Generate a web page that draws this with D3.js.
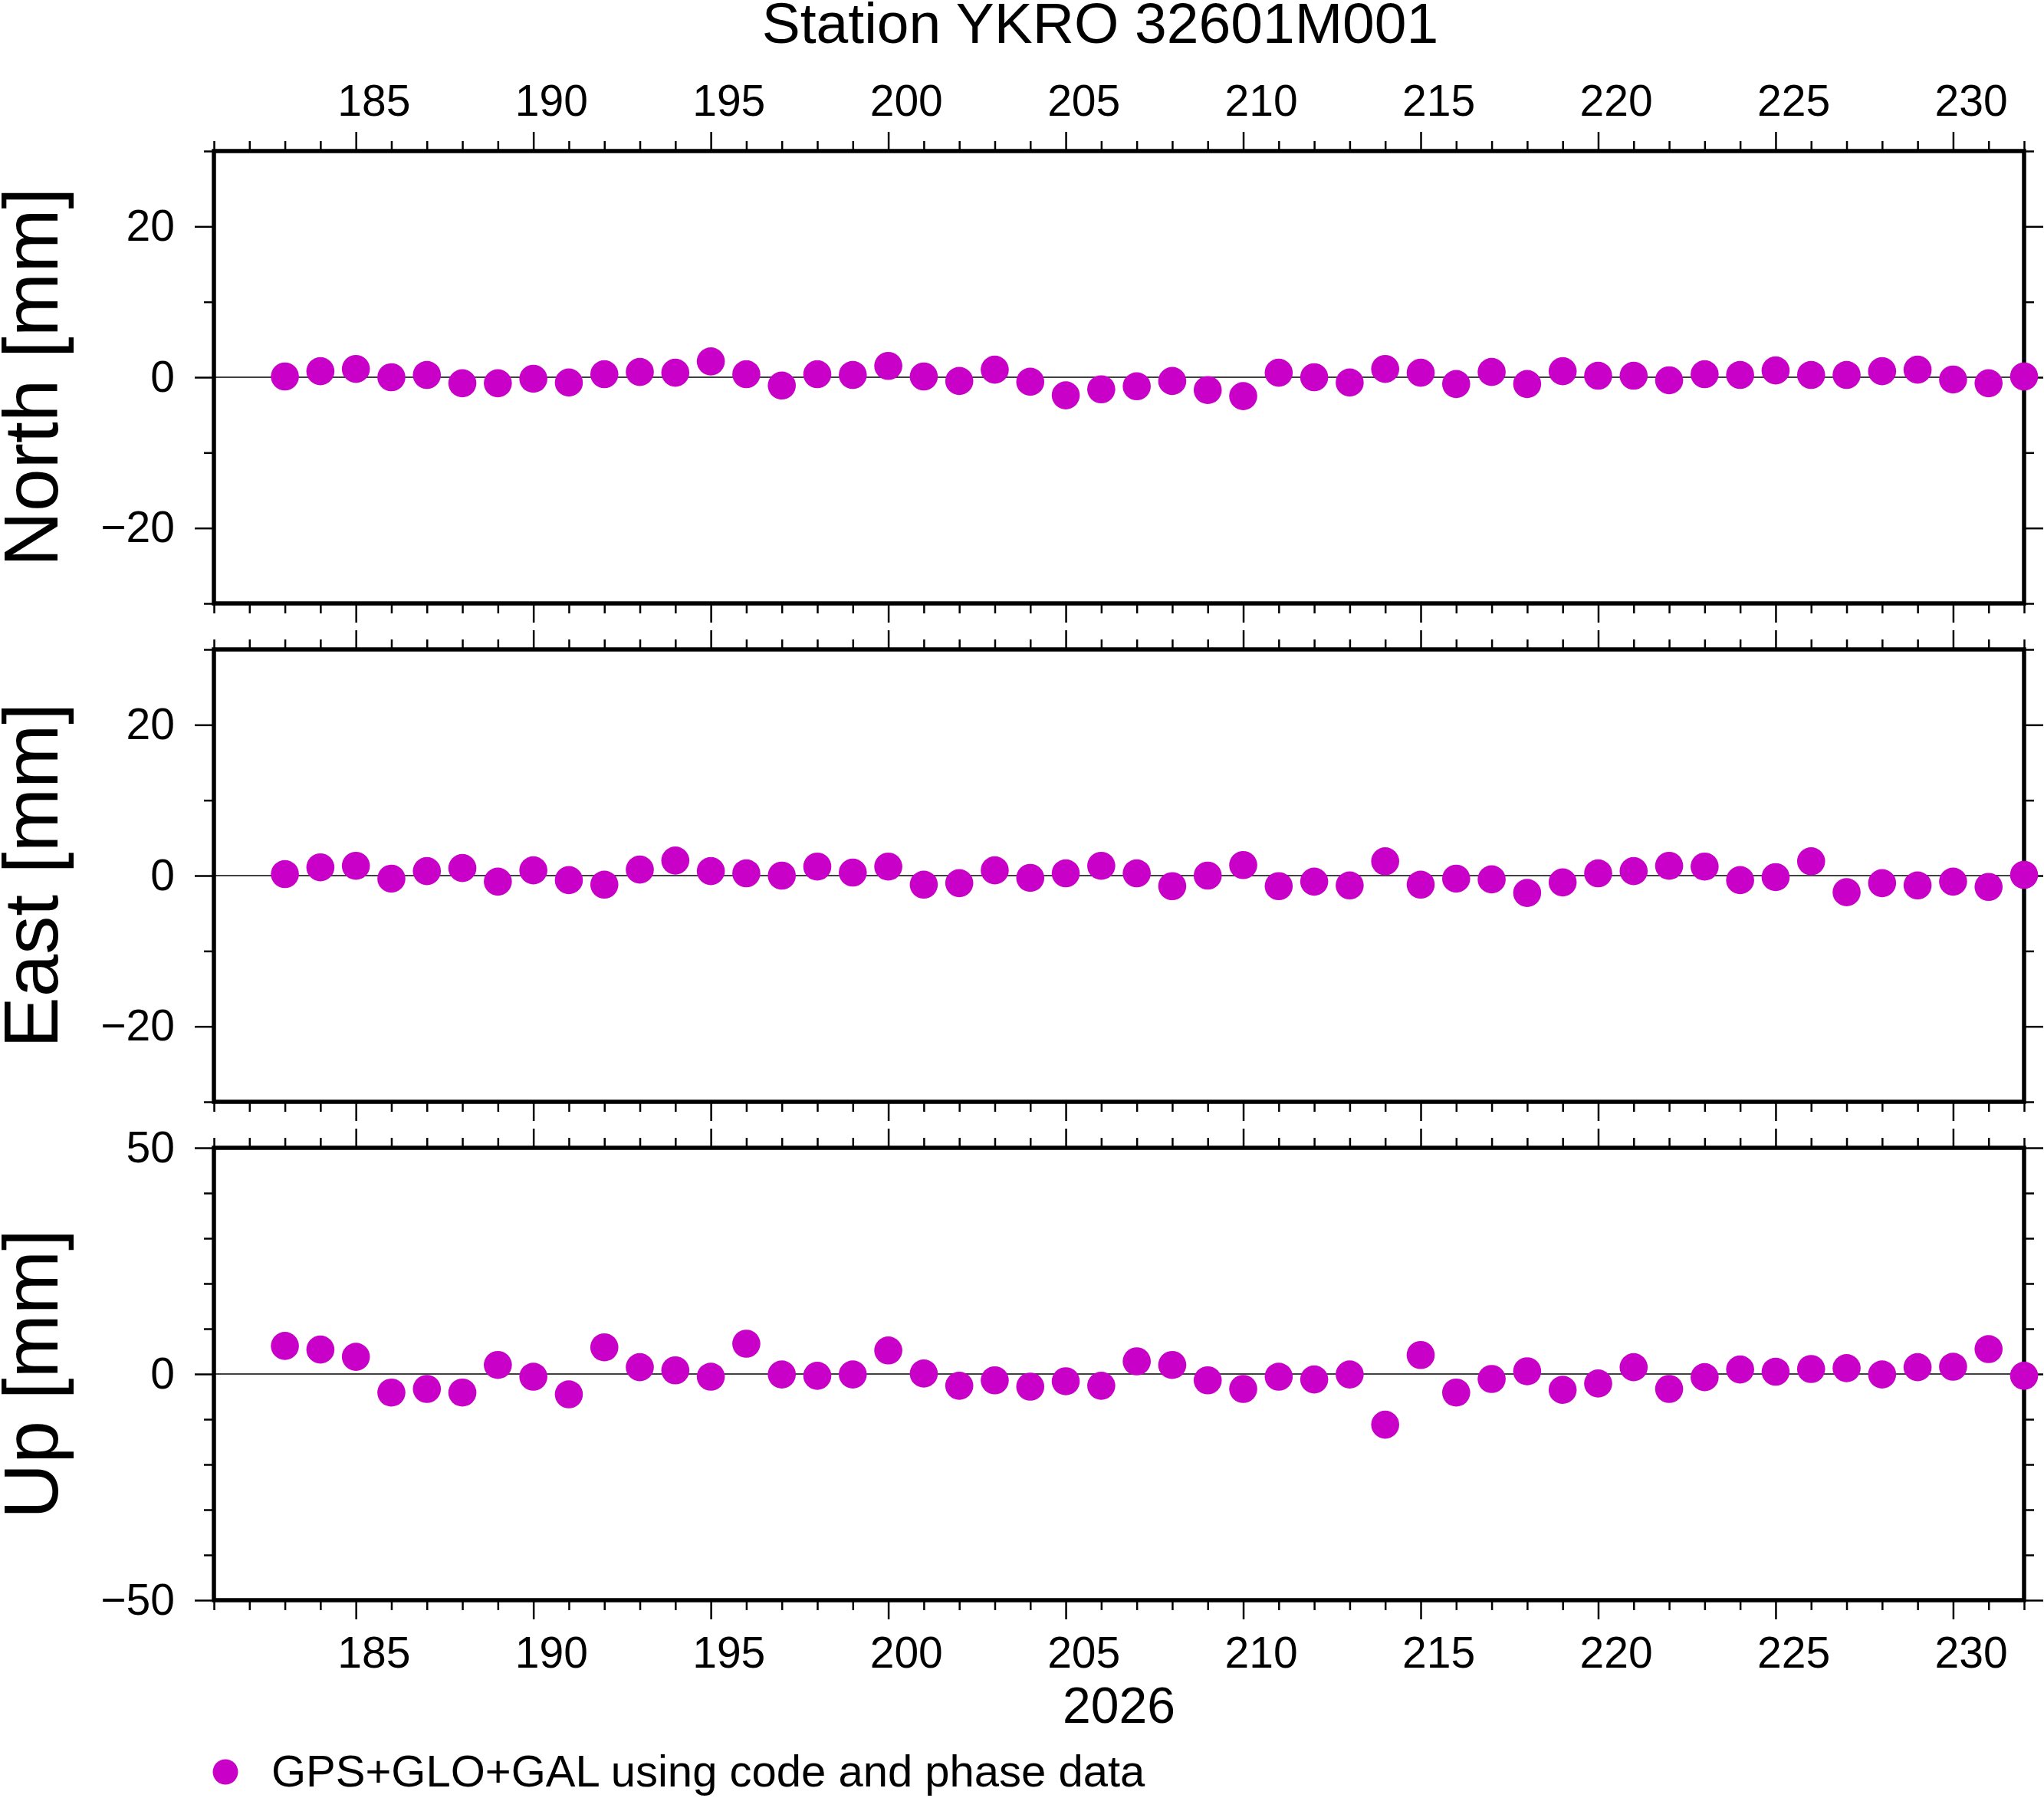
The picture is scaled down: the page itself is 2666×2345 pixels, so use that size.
<!DOCTYPE html>
<html>
<head>
<meta charset="utf-8">
<script src="https://cdn.jsdelivr.net/npm/d3@7"></script>
<style>
  body { margin: 0; background: #fff; }
  text { font-family: "Liberation Sans", Arial, Helvetica, sans-serif; fill: #000; }
</style>
</head>
<body>
<div class="tsChart"></div>
<script>
// day of year 2026
const days = [183, 184, 185, 186, 187, 188, 189, 190, 191, 192,
              193, 194, 195, 196, 197, 198, 199, 200, 201, 202,
              203, 204, 205, 206, 207, 208, 209, 210, 211, 212,
              213, 214, 215, 216, 217, 218, 219, 220, 221, 222,
              223, 224, 225, 226, 227, 228, 229, 230, 231, 232];

const north = [0.1, 0.8, 1.1, 0.0, 0.3, -0.8, -0.8, -0.2, -0.7, 0.4,
               0.7, 0.6, 2.1, 0.4, -1.1, 0.4, 0.3, 1.5, 0.1, -0.5,
               1.0, -0.6, -2.4, -1.6, -1.2, -0.5, -1.7, -2.5, 0.6, 0.0,
               -0.7, 1.1, 0.6, -0.9, 0.7, -0.9, 0.8, 0.2, 0.2, -0.4,
               0.4, 0.3, 0.9, 0.3, 0.3, 0.8, 1.0, -0.3, -0.8, 0.1];

const east = [0.2, 1.1, 1.3, -0.4, 0.6, 1.0, -0.8, 0.7, -0.6, -1.2,
              0.8, 2.0, 0.6, 0.3, 0.0, 1.2, 0.4, 1.2, -1.2, -1.0,
              0.7, -0.3, 0.3, 1.3, 0.3, -1.4, 0.0, 1.4, -1.4, -0.8,
              -1.3, 1.9, -1.2, -0.4, -0.5, -2.3, -0.9, 0.3, 0.6, 1.3,
              1.2, -0.6, -0.2, 1.9, -2.2, -1.0, -1.3, -0.8, -1.5, 0.1];

const up = [6.2, 5.4, 3.8, -4.1, -3.3, -4.1, 2.0, -0.6, -4.5, 5.9,
            1.5, 0.8, -0.6, 6.7, -0.1, -0.4, -0.1, 5.2, 0.1, -2.6,
            -1.4, -2.8, -1.6, -2.6, 2.8, 2.0, -1.4, -3.3, -0.6, -1.2,
            -0.1, -11.2, 4.2, -4.1, -1.1, 0.6, -3.5, -2.1, 1.5, -3.3,
            -0.7, 1.0, 0.5, 1.1, 1.3, -0.1, 1.5, 1.6, 5.5, -0.4];

const xDomain = [181, 232];
const majorDays = [185, 190, 195, 200, 205, 210, 215, 220, 225, 230];
const minorDays = d3.range(181, 233).filter(d => d % 5 !== 0);

const neMajor = [-20, 0, 20], neMinor = [-30, -10, 10, 30];
const upMajor = [-50, 0, 50], upMinor = [-40, -30, -20, -10, 10, 20, 30, 40];

const title = "Station YKRO 32601M001";
const yearLabel = "2026";
const legendText = "GPS+GLO+GAL using code and phase data";

const panels = [
  { label: "North [mm]", values: north, domain: [-30, 30], major: neMajor, minor: neMinor },
  { label: "East [mm]",  values: east,  domain: [-30, 30], major: neMajor, minor: neMinor },
  { label: "Up [mm]",    values: up,    domain: [-50, 50], major: upMajor, minor: upMinor }
];

const width = 2666, height = 2345;
const left = 279, right = 2640;
const panelTops = [197, 847, 1497], panelH = 590;
const dotColor = "#c800c8";
const majorLen = 25, minorLen = 13;

const svg = d3.select(".tsChart").append("svg")
    .attr("width", width)
    .attr("height", height);

const x = d3.scaleLinear().domain(xDomain).range([left, right]);

function styleAxis(g, fontSize) {
  g.select(".domain").remove();
  g.selectAll(".tick line").attr("stroke", "#000").attr("stroke-width", 2.5);
  g.selectAll(".tick text")
    .style("font-family", '"Liberation Sans", Arial, Helvetica, sans-serif')
    .attr("font-size", fontSize + "px")
    .attr("fill", "#000");
}

// day labels sit in the middle of the day, half a day right of the tick
function shiftDayLabels(g) {
  g.selectAll(".tick text").attr("x", d => x(d + 0.5) - x(d));
}

panels.forEach((p, i) => {
  const top = panelTops[i], bottom = top + panelH;
  const y = d3.scaleLinear().domain(p.domain).range([bottom, top]);
  const g = svg.append("g");

  const firstPanel = i === 0, lastPanel = i === panels.length - 1;

  // x ticks, top and bottom of every panel
  g.append("g").attr("transform", `translate(0,${top})`)
    .call(d3.axisTop(x).tickValues(minorDays).tickSize(minorLen).tickFormat(""))
    .call(a => styleAxis(a, 57));
  g.append("g").attr("transform", `translate(0,${top})`)
    .call(d3.axisTop(x).tickValues(majorDays).tickSize(majorLen).tickPadding(21)
      .tickFormat(firstPanel ? d3.format("d") : ""))
    .call(a => styleAxis(a, 57))
    .call(shiftDayLabels);

  g.append("g").attr("transform", `translate(0,${bottom})`)
    .call(d3.axisBottom(x).tickValues(minorDays).tickSize(minorLen).tickFormat(""))
    .call(a => styleAxis(a, 57));
  g.append("g").attr("transform", `translate(0,${bottom})`)
    .call(d3.axisBottom(x).tickValues(majorDays).tickSize(majorLen).tickPadding(23)
      .tickFormat(lastPanel ? d3.format("d") : ""))
    .call(a => styleAxis(a, 57))
    .call(shiftDayLabels);

  // y ticks, left (labelled) and right
  g.append("g").attr("transform", `translate(${left},0)`)
    .call(d3.axisLeft(y).tickValues(p.minor).tickSize(minorLen).tickFormat(""))
    .call(a => styleAxis(a, 57));
  g.append("g").attr("transform", `translate(${left},0)`)
    .call(d3.axisLeft(y).tickValues(p.major).tickSize(majorLen).tickPadding(26))
    .call(a => styleAxis(a, 57));
  g.append("g").attr("transform", `translate(${right},0)`)
    .call(d3.axisRight(y).tickValues(p.minor).tickSize(minorLen).tickFormat(""))
    .call(a => styleAxis(a, 57));
  g.append("g").attr("transform", `translate(${right},0)`)
    .call(d3.axisRight(y).tickValues(p.major).tickSize(majorLen).tickFormat(""))
    .call(a => styleAxis(a, 57));

  // zero line
  g.append("line")
    .attr("x1", left).attr("x2", right)
    .attr("y1", y(0)).attr("y2", y(0))
    .attr("stroke", "#000")
    .attr("stroke-width", 1.3);

  // frame
  g.append("rect")
    .attr("x", left).attr("y", top)
    .attr("width", right - left).attr("height", panelH)
    .attr("fill", "none")
    .attr("stroke", "#000")
    .attr("stroke-width", 5.5);

  // points
  g.selectAll(".dot")
    .data(p.values.map((v, k) => ({ day: days[k], v: v })))
    .enter().append("circle")
    .attr("class", "dot")
    .attr("cx", d => x(d.day))
    .attr("cy", d => y(d.v))
    .attr("r", 18.3)
    .attr("fill", dotColor);

  // panel label
  svg.append("text")
    .attr("transform", `translate(75,${(top + bottom) / 2}) rotate(-90)`)
    .attr("text-anchor", "middle")
    .attr("font-size", "100px")
    .text(p.label);
});

svg.append("text")
  .attr("x", 1435).attr("y", 56)
  .attr("text-anchor", "middle")
  .attr("font-size", "75px")
  .text(title);

svg.append("text")
  .attr("x", (left + right) / 2).attr("y", 2247)
  .attr("text-anchor", "middle")
  .attr("font-size", "66px")
  .text(yearLabel);

// legend
svg.append("circle")
  .attr("cx", 294).attr("cy", 2311)
  .attr("r", 16.5)
  .attr("fill", dotColor);
svg.append("text")
  .attr("x", 354).attr("y", 2330)
  .attr("font-size", "58px")
  .text(legendText);
</script>
</body>
</html>
